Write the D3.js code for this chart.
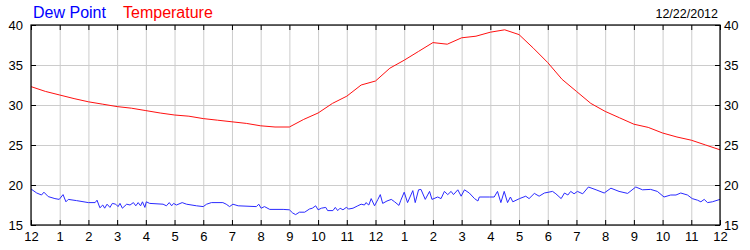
<!DOCTYPE html>
<html>
<head>
<meta charset="utf-8">
<script src="https://cdn.jsdelivr.net/npm/d3@7"></script>
<style>
  body { margin: 0; background: #fff; }
  svg { display: block; font-family: "Liberation Sans", Arial, sans-serif; }
  .grid line { stroke: #cccccc; }
  .grid path { display: none; }
  .axis path { display: none; }
  .axis line { stroke: #000; }
  .axis text { fill: #000; font-size: 13px; }
</style>
</head>
<body>
<svg id="svg1" width="750" height="250"></svg>
<script>
// hour labels on the x axis (midnight to midnight)
var hourLabels = ["12","1","2","3","4","5","6","7","8","9","10","11",
                  "12","1","2","3","4","5","6","7","8","9","10","11","12"];
var yTicks = [15, 20, 25, 30, 35, 40];

// temperature, every 30 minutes from midnight
var tempMinutes = d3.range(0, 1441, 30);
var temperature = [32.3, 31.7, 31.25, 30.8, 30.4, 30.1, 29.8, 29.6, 29.3, 29.0,
  28.75, 28.6, 28.3, 28.1, 27.9, 27.7, 27.4, 27.25, 27.25, 28.2,
  29.0, 30.2, 31.1, 32.5, 33.0, 34.6, 35.6, 36.7, 37.8, 37.6,
  38.4, 38.6, 39.1, 39.4, 38.8, 37.1, 35.3, 33.2, 31.7, 30.2,
  29.2, 28.4, 27.6, 27.2, 26.5, 26.0, 25.6, 25.0, 24.4];

// dew point readings (minutes past midnight, value)
var dewMinutes = [0, 12, 22, 27, 36, 50, 59, 67, 73, 78, 95, 120, 134, 138, 144, 150,
  154, 159, 165, 170, 177, 182, 186, 191, 200, 207, 214, 219, 224, 229, 233, 238,
  241, 248, 276, 283, 289, 294, 298, 304, 316, 325, 346, 360, 367, 377, 401, 408,
  415, 422, 433, 471, 476, 481, 488, 499, 527, 540, 547, 553, 561, 572, 582, 588,
  595, 600, 607, 616, 620, 631, 636, 641, 646, 652, 659, 664, 673, 683, 690, 697,
  700, 706, 711, 718, 725, 730, 735, 744, 753, 760, 769, 773, 780, 787, 798, 803,
  810, 815, 824, 833, 838, 850, 857, 864, 871, 878, 883, 892, 899, 906, 916, 927,
  934, 937, 958, 968, 975, 982, 989, 996, 1002, 1007, 1021, 1034, 1041, 1052, 1062,
  1073, 1090, 1097, 1108, 1115, 1122, 1128, 1135, 1142, 1153, 1165, 1181, 1198,
  1212, 1229, 1247, 1264, 1278, 1295, 1309, 1323, 1337, 1348, 1358, 1372, 1382,
  1393, 1400, 1407, 1414, 1424, 1440];
var dewPoint = [19.5, 19.0, 18.75, 19.1, 18.55, 18.3, 18.2, 18.8, 17.9, 18.2, 18.05, 17.8, 17.8, 18.1, 17.15, 17.5,
  17.1, 17.6, 17.2, 17.7, 17.6, 17.3, 17.7, 17.1, 17.6, 17.5, 17.8, 17.4, 17.8, 17.4, 17.9, 17.2,
  17.9, 17.7, 17.6, 17.4, 17.8, 17.4, 17.7, 17.5, 17.8, 17.6, 17.4, 17.3, 17.6, 17.8, 17.8, 17.6,
  17.3, 17.6, 17.4, 17.3, 17.6, 17.1, 17.3, 16.95, 16.95, 16.9, 16.5, 16.3, 16.6, 16.6, 17.0, 17.1,
  17.4, 16.9, 17.1, 17.2, 16.8, 16.8, 17.2, 16.8, 17.1, 16.9, 17.2, 17.0, 17.1, 17.4, 17.6, 17.5,
  17.8, 17.5, 18.3, 17.4, 18.2, 18.8, 17.7, 18.0, 18.2, 17.9, 17.45, 18.1, 19.1, 17.8, 19.3, 17.8,
  19.4, 19.45, 18.2, 19.2, 18.2, 18.5, 18.3, 19.2, 18.8, 19.2, 18.8, 19.4, 18.6, 19.4, 19.0, 18.3,
  18.0, 18.5, 18.5, 18.5, 19.2, 17.8, 19.2, 17.8, 18.5, 17.9, 18.3, 18.6, 18.3, 18.95, 18.6,
  19.0, 19.2, 18.9, 18.3, 19.0, 18.75, 19.2, 18.9, 19.2, 18.9, 19.75, 19.4, 19.0,
  19.6, 19.2, 18.95, 19.75, 19.4, 19.45, 19.2, 18.5, 18.75, 18.75, 19.0, 18.75, 18.3,
  18.1, 17.9, 18.2, 17.8, 17.9, 18.2];

var dateLabel = "12/22/2012";

var svg = d3.select("svg#svg1");
var plotLeft = 31, plotRight = 720, plotTop = 25, plotBottom = 225;

var x = d3.scaleLinear().domain([0, 1440]).range([plotLeft, plotRight]);
var y = d3.scaleLinear().domain([15, 40]).range([plotBottom, plotTop]);
var hourTicks = d3.range(0, 1441, 60);

var translate = function(a, b) {
  return "translate(" + a + "," + b + ")";
};

// grid
svg.append("g").attr("class", "grid")
  .attr("transform", translate(0, plotBottom))
  .call(d3.axisBottom(x).tickValues(hourTicks).tickSize(-(plotBottom - plotTop)).tickFormat(""));
svg.append("g").attr("class", "grid")
  .attr("transform", translate(plotLeft, 0))
  .call(d3.axisLeft(y).tickValues(yTicks).tickSize(-(plotRight - plotLeft)).tickFormat(""));

// lines
var tempLine = d3.line()
  .x(function(d, i) { return x(tempMinutes[i]); })
  .y(function(d) { return y(d); });
var dewLine = d3.line()
  .x(function(d, i) { return x(dewMinutes[i]); })
  .y(function(d) { return y(d); });

svg.append("path").datum(dewPoint)
  .attr("d", dewLine)
  .attr("fill", "none").attr("stroke", "#2a2aff").attr("stroke-width", 1);
svg.append("path").datum(temperature)
  .attr("d", tempLine)
  .attr("fill", "none").attr("stroke", "#ff1010").attr("stroke-width", 1);

// axes with inward ticks
var fmtHour = function(d, i) { return hourLabels[i]; };
svg.append("g").attr("class", "axis")
  .attr("transform", translate(0, plotBottom))
  .call(d3.axisBottom(x).tickValues(hourTicks).tickSize(-5).tickPadding(7).tickFormat(fmtHour));
svg.append("g").attr("class", "axis")
  .attr("transform", translate(0, plotTop))
  .call(d3.axisTop(x).tickValues(hourTicks).tickSize(-5).tickFormat(""));
svg.append("g").attr("class", "axis")
  .attr("transform", translate(plotLeft, 0))
  .call(d3.axisLeft(y).tickValues(yTicks).tickSize(-5).tickPadding(8).tickFormat(d3.format("d")));
svg.append("g").attr("class", "axis")
  .attr("transform", translate(plotRight, 0))
  .call(d3.axisRight(y).tickValues(yTicks).tickSize(-5).tickPadding(4).tickFormat(d3.format("d")));

// frame
svg.append("rect")
  .attr("x", plotLeft).attr("y", plotTop)
  .attr("width", plotRight - plotLeft).attr("height", plotBottom - plotTop)
  .attr("fill", "none").attr("stroke", "#000").attr("stroke-width", 1.2);

// legend + date
svg.append("text").attr("x", 33).attr("y", 18)
  .attr("font-size", 16).attr("fill", "#0000ff").text("Dew Point");
svg.append("text").attr("x", 123).attr("y", 18)
  .attr("font-size", 16).attr("fill", "#ff0000").text("Temperature");
svg.append("text").attr("x", 718).attr("y", 18)
  .attr("font-size", 12.5).attr("text-anchor", "end").attr("fill", "#000").text(dateLabel);
</script>
</body>
</html>
